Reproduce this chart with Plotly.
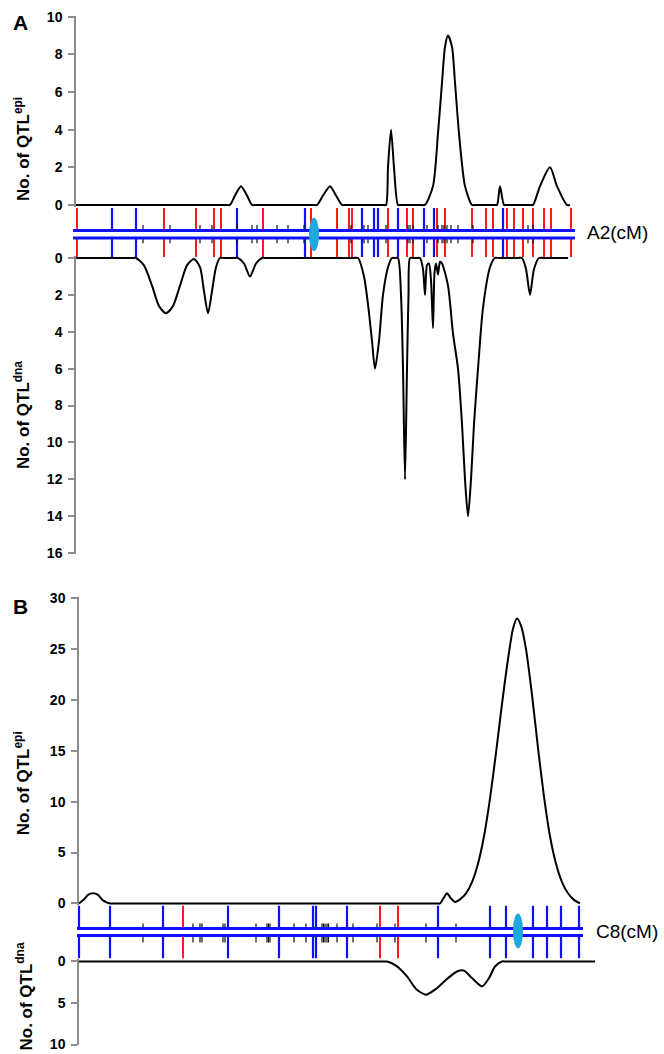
import plotly.graph_objects as go

W, H = 664, 1054

# ---------------- DATA ----------------
# Panel A : linkage group A2 (positions in cM)
A2_LENGTH = 247
a_epi_cm = [0, 75, 77, 79.5, 82.5, 85.5, 88, 90, 118.5, 120.5, 123.5, 127, 130, 133, 135,
            153.5, 155, 156, 157.5, 159, 161, 162.5, 172.5, 174.5, 178.5, 181, 183, 184.5, 186,
            188, 189.5, 191.5, 194.5, 198, 200, 209, 210.5, 212, 214, 215.5,
            227, 228.5, 232, 237, 240.5, 245.5, 247]
a_epi_val = [0, 0, 0, 0.5, 1, 0.5, 0, 0, 0, 0, 0.5, 1, 0.5, 0, 0,
             0, 0, 2, 4, 2, 0, 0, 0, 0, 1, 3.8, 6.5, 8.4, 9,
             8.4, 6.5, 3.8, 1, 0, 0, 0, 0, 1, 0, 0,
             0, 0, 1, 2, 1, 0, 0]
a_dna_cm = [0, 28, 30, 34, 38, 41.5, 45, 48.5, 52, 55.5, 59, 62, 64, 66, 68, 70, 72, 74,
            79, 81, 84, 87, 90, 93, 95,
            139, 141, 144, 146, 148, 149.5, 151.5, 153.5, 156, 158, 159.5, 161, 162.5, 163.5, 164.5,
            165.5, 166.25, 167, 168.5, 170.5, 172, 173.5, 174.5, 175.5, 176.5, 177.5, 178.5, 179.25,
            180, 181, 182, 183, 186, 188.5, 191, 193, 194.5, 196, 197.5, 199, 201, 203.5, 207,
            209.5, 211.5, 221, 223, 225, 227, 229, 231.5, 233.5, 246]
a_dna_val = [0, 0, 0, 0.4, 1.5, 2.6, 3, 2.6, 1.5, 0.4, 0.05, 0.5, 1.8, 3, 1.8, 0.5, 0, 0,
             0, 0, 0.3, 1, 0.3, 0, 0,
             0, 0, 1, 2.5, 4.5, 6, 4.5, 2, 0.5, 0, 0, 0, 2, 6, 12,
             6, 2, 0, 0, 0, 0, 0.6, 2, 0.4, 0.3, 1.2, 3.8, 0.8,
             0.3, 0.9, 0.2, 0.3, 1.5, 4.1, 6, 9, 12, 14, 12, 9, 6, 2.7, 0.5,
             0, 0, 0, 0, 0.6, 2, 0.6, 0, 0, 0]
a_red = [0.5, 44, 60, 69, 72.5, 93.5, 117.5, 130.5, 136.5, 138, 156, 165.5, 168.5, 180.5, 184.5,
         198, 205, 208.5, 215.5, 219, 223.5, 228.5, 234, 237.5, 247.5]
a_blue = [18, 30, 80.5, 114.5, 143, 149, 151, 161, 174, 179, 213.5]
a_black = [33.5, 47, 62, 68, 80.5, 88, 90.5, 100.5, 106, 114, 137.5, 144, 146, 155, 166, 167, 168.5,
           175.5, 181, 183, 184, 185.5, 187.5, 191, 198.5, 226, 228.5]
a_centromere = 119

# Panel B : linkage group C8 (positions in cM)
C8_LENGTH = 250.5
b_epi_cm = [0, 2.5, 4.5, 7, 9.5, 12, 15.5, 17.5, 178.5, 180.5, 182.5, 184, 186, 188, 190.5,
            193.5, 196.5, 199.5, 202.5, 205.5, 208.5, 211.5, 214.5, 217, 219, 221, 223.5,
            226.5, 229.5, 232.5, 235.5, 238.5, 241.5, 244.5, 247.5, 250.5]
b_epi_val = [0, 0.4, 0.85, 1, 0.85, 0.3, 0, 0, 0, 0, 0.6, 1, 0.5, 0.15, 0.4,
             1.0, 2.1, 3.9, 6.6, 10.3, 14.8, 19.6, 24.0, 27.0, 28, 27.3, 25,
             20.5, 15.3, 10.5, 6.6, 3.9, 2.1, 1.0, 0.35, 0]
b_dna_cm = [0, 152, 154, 158.5, 164, 168.5, 173.5, 178.5, 184, 189, 192.5, 196.5, 201.5, 205, 208,
            211.5, 213.5, 258]
b_dna_val = [0, 0, 0, 0.5, 1.8, 3.3, 4, 3.3, 2.1, 1.2, 1.1, 2, 3, 2, 0.6, 0, 0, 0]
b_red = [52, 150.5, 159.5]
b_blue = [0, 15.5, 42, 74.5, 100, 117, 118.5, 134, 179.5, 205.5, 213.5, 227, 234, 241, 250]
b_black = [32, 57, 60.5, 61.5, 72, 73, 88.5, 94, 94.75, 95.5, 107.5, 113.5, 121.5, 122.25, 123,
           124, 124.75, 129, 137, 149, 158, 173.5, 188.5]
b_centromere = 219.5

a_epi_ticks = [0, 2, 4, 6, 8, 10]
a_dna_ticks = [0, 2, 4, 6, 8, 10, 12, 14, 16]
b_epi_ticks = [0, 5, 10, 15, 20, 25, 30]
b_dna_ticks = [0, 5, 10]

# ---------------- STYLE / LAYOUT HELPERS ----------------
FONT = "Liberation Sans, Arial, sans-serif"
GRAY = "#8c8c8c"
RED = "#ff1a1a"
BLUE = "#1010ff"
CYAN = "#1ea8e0"
PX_PER_CM = 2.0
# vertical calibration of the rendered page (target row -> layout row)
V_OFF, V_SCALE = 7.2, 0.986


def vy(p):
    return (p - V_OFF) / V_SCALE


def xrange_for(origin_px):
    return [(0 - origin_px) / PX_PER_CM, (W - origin_px) / PX_PER_CM]


def ydomain(p0, p1, v0, v1, lo, hi):
    p0, p1 = vy(p0), vy(p1)
    ppu = (p1 - p0) / (v1 - v0)
    pa = p0 + (lo - v0) * ppu
    pb = p0 + (hi - v0) * ppu
    top, bot = min(pa, pb), max(pa, pb)
    return [max(0, 1 - bot / H), min(1, 1 - top / H)]


def band_domain(ptop, pbot):
    return [1 - vy(pbot) / H, 1 - vy(ptop) / H]


def segs(xs, y0, y1):
    X, Y = [], []
    for x in xs:
        X += [x, x, None]
        Y += [y0, y1, None]
    return X, Y


fig = go.Figure()


def add_band(xref, yref, red, blue, black, length, y_lo_line, y_hi_line, blk_lo, blk_hi, over_l, over_r):
    for xs, col, w in [(red, RED, 2), (blue, BLUE, 2.2)]:
        for (a, b) in [(0, y_lo_line), (y_hi_line, 1)]:
            X, Y = segs(xs, a, b)
            fig.add_trace(go.Scatter(x=X, y=Y, mode="lines", line=dict(color=col, width=w),
                                     xaxis=xref, yaxis=yref, hoverinfo="skip"))
    for (a, b) in [(blk_lo, y_lo_line), (y_hi_line, blk_hi)]:
        X, Y = segs(black, a, b)
        fig.add_trace(go.Scatter(x=X, y=Y, mode="lines", line=dict(color="#111111", width=1.2),
                                 xaxis=xref, yaxis=yref, hoverinfo="skip"))
    for yy in (y_lo_line, y_hi_line):
        fig.add_trace(go.Scatter(x=[-over_l, length + over_r], y=[yy, yy], mode="lines",
                                 line=dict(color=BLUE, width=3), xaxis=xref, yaxis=yref, hoverinfo="skip"))


CURVE = dict(color="black", width=2, shape="spline", smoothing=0.7)
# Panel A curves
fig.add_trace(go.Scatter(x=a_epi_cm, y=a_epi_val, mode="lines", line=CURVE,
                         xaxis="x", yaxis="y", hoverinfo="skip"))
fig.add_trace(go.Scatter(x=a_dna_cm, y=a_dna_val, mode="lines", line=CURVE,
                         xaxis="x", yaxis="y3", hoverinfo="skip"))
add_band("x", "y2", a_red, a_blue, a_black, A2_LENGTH, 0.388, 0.541, 0.28, 0.65, 1.5, 2.5)

# Panel B curves
fig.add_trace(go.Scatter(x=b_epi_cm, y=b_epi_val, mode="lines", line=CURVE,
                         xaxis="x2", yaxis="y4", hoverinfo="skip"))
fig.add_trace(go.Scatter(x=b_dna_cm, y=b_dna_val, mode="lines", line=CURVE,
                         xaxis="x2", yaxis="y6", hoverinfo="skip"))
add_band("x2", "y5", b_red, b_blue, b_black, C8_LENGTH, 0.434, 0.566, 0.30, 0.66, 1.0, 1.5)

# centromere ellipses
fig.add_shape(type="circle", xref="x", yref="y2", x0=a_centromere - 2.5, x1=a_centromere + 2.5,
              y0=0.12, y1=0.80, fillcolor=CYAN, line=dict(width=0), layer="above")
fig.add_shape(type="circle", xref="x2", yref="y5", x0=b_centromere - 2.5, x1=b_centromere + 2.5,
              y0=0.19, y1=0.85, fillcolor=CYAN, line=dict(width=0), layer="above")

yax_common = dict(showgrid=False, zeroline=False, showline=True, linecolor=GRAY, linewidth=1.5,
                  ticks="outside", ticklen=6, tickwidth=1.5, tickcolor=GRAY,
                  tickfont=dict(family=FONT, size=14, color="black", weight="bold"),
                  anchor="free", ticklabelstandoff=3)

PAD = 2.0
a_top_lo, a_top_hi = -PAD / 18.8, 10.05
a_bot_lo, a_bot_hi = -PAD / 18.44, 16.05
b_top_lo, b_top_hi = -PAD / 10.17, 30.1
b_bot_lo, b_bot_hi = -PAD / 8.3, 10.05

fig.update_layout(
    width=W, height=H, margin=dict(l=0, r=0, t=0, b=0),
    paper_bgcolor="white", plot_bgcolor="rgba(0,0,0,0)", showlegend=False,
    xaxis=dict(domain=[0, 1], range=xrange_for(76), visible=False, anchor="y2"),
    xaxis2=dict(domain=[0, 1], range=xrange_for(79), visible=False, anchor="y5"),
    yaxis=dict(domain=ydomain(205, 17, 0, 10, a_top_lo, a_top_hi), range=[a_top_lo, a_top_hi],
               tickvals=a_epi_ticks, position=75 / W, **yax_common),
    yaxis2=dict(domain=band_domain(208, 257), range=[0, 1], visible=False, anchor="x"),
    yaxis3=dict(domain=ydomain(258, 553, 0, 16, a_bot_lo, a_bot_hi), range=[a_bot_hi, a_bot_lo],
                tickvals=a_dna_ticks, position=75 / W, **yax_common),
    yaxis4=dict(domain=ydomain(903, 598, 0, 30, b_top_lo, b_top_hi), range=[b_top_lo, b_top_hi],
                tickvals=b_epi_ticks, position=78 / W, **yax_common),
    yaxis5=dict(domain=band_domain(905, 958), range=[0, 1], visible=False, anchor="x2"),
    yaxis6=dict(domain=ydomain(961, 1044, 0, 10, b_bot_lo, b_bot_hi), range=[b_bot_hi, b_bot_lo],
                tickvals=b_dna_ticks, position=78 / W, **yax_common),
)


def ann(text, xpx, ypx, size, angle=0, xanchor="center", bold=True):
    fig.add_annotation(text=f"<b>{text}</b>" if bold else text, x=xpx / W, y=1 - vy(ypx) / H,
                       xref="paper", yref="paper", showarrow=False, textangle=angle,
                       xanchor=xanchor, yanchor="middle",
                       font=dict(family=FONT, size=size, color="black"))


ann("A", 20, 23, 21)
ann("B", 20, 606, 21)
ann("No. of QTL<sup>epi</sup>", 22, 149, 17, angle=-90)
ann("No. of QTL<sup>dna</sup>", 22, 415, 17, angle=-90)
ann("No. of QTL<sup>epi</sup>", 22, 783, 17, angle=-90)
ann("No. of QTL<sup>dna</sup>", 24, 996, 17, angle=-90)
ann("A2(cM)", 585, 233, 19, xanchor="left", bold=False)
ann("C8(cM)", 594, 931, 19, xanchor="left", bold=False)

fig.write_html("out.html", config={"displayModeBar": False},
               post_script="document.body.style.margin='0';document.body.style.padding='0';"
                           "document.documentElement.style.overflow='hidden';")
